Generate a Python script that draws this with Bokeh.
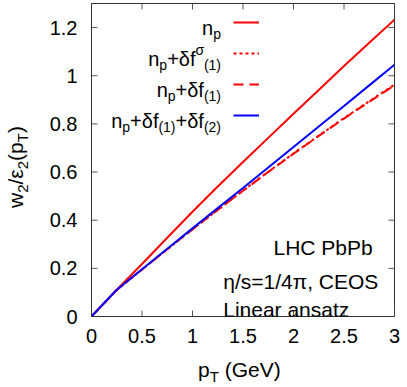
from bokeh.plotting import figure
from bokeh.models import (Range1d, FixedTicker, LinearAxis, Label, Legend, LegendItem, Div)
from bokeh.layouts import row, column
from bokeh.core.properties import value
from bokeh.embed import file_html
from bokeh.resources import INLINE

# ---------------- data ----------------
pt = [0.0, 0.125, 0.25, 0.5, 0.75, 1.0, 1.25, 1.5, 1.75, 2.0, 2.25, 2.5, 2.75, 3.0]
w_np = [0.0, 0.056, 0.111, 0.218, 0.327, 0.435, 0.540, 0.642, 0.742, 0.842, 0.941, 1.040, 1.137, 1.233]
w_np_dfsig = [0.0, 0.055, 0.110, 0.195, 0.279, 0.362, 0.443, 0.523, 0.601, 0.677, 0.751, 0.824, 0.894, 0.963]
w_np_df1 = [0.0, 0.055, 0.110, 0.195, 0.279, 0.362, 0.443, 0.522, 0.600, 0.676, 0.750, 0.822, 0.892, 0.960]
w_np_df12 = [0.0, 0.056, 0.111, 0.196, 0.281, 0.366, 0.450, 0.534, 0.619, 0.704, 0.789, 0.874, 0.960, 1.046]

x_ticks = [0, 0.5, 1, 1.5, 2, 2.5, 3]
x_tick_labels = ["0", "0.5", "1", "1.5", "2", "2.5", "3"]
y_ticks = [0, 0.2, 0.4, 0.6, 0.8, 1, 1.2]
y_tick_labels = ["0", "0.2", "0.4", "0.6", "0.8", "1", "1.2"]

# legend entries: (text piece, kind) kind: M main, sub, sup
legend_rows = [
    [("n", "M"), ("p", "sub")],
    [("n", "M"), ("p", "sub"), ("+δf", "M"), ("σ", "sup"), ("(1)", "sub")],
    [("n", "M"), ("p", "sub"), ("+δf", "M"), ("(1)", "sub")],
    [("n", "M"), ("p", "sub"), ("+δf", "M"), ("(1)", "sub"), ("+δf", "M"), ("(2)", "sub")],
]
ylabel_parts = [("w", "M"), ("2", "sub"), ("/ε", "M"), ("2", "sub"), ("(p", "M"), ("T", "sub"), (")", "M")]
xlabel_parts = [("p", "M"), ("T", "sub"), (" (GeV)", "M")]
info_lines = ["LHC PbPb", "η/s=1/4π, CEOS", "Linear ansatz"]

FONT = "Liberation Sans"
X0, X1 = 0, 3
Y0, Y1 = 0, 1.3

# page geometry (pixels)
W, H = 407, 387
LEFT_W = 33          # width of the y-label strip
MAIN_H = 352         # height of main figure
FRAME_L, FRAME_R, FRAME_T, FRAME_B = 91, 394, 3, 316

p = figure(width=W - LEFT_W, height=MAIN_H, output_backend="svg", toolbar_location=None,
           x_range=Range1d(X0, X1), y_range=Range1d(Y0, Y1),
           min_border_left=FRAME_L - LEFT_W, min_border_right=W - FRAME_R,
           min_border_top=FRAME_T, min_border_bottom=MAIN_H - FRAME_B,
           x_axis_location=None, y_axis_location=None)
p.grid.visible = False
p.outline_line_color = "#333333"
p.outline_line_width = 1
p.background_fill_color = "white"
p.border_fill_color = "white"

def style_axis(ax, ticks, labels):
    ax.ticker = FixedTicker(ticks=ticks)
    ax.major_tick_in = 0
    ax.major_tick_out = 0
    ax.minor_tick_line_color = None
    ax.axis_line_color = "#333333"
    ax.major_label_overrides = {t: l for t, l in zip(ticks, labels)}
    ax.major_label_text_font = FONT
    ax.major_label_text_font_size = "20px"
    ax.major_label_text_color = "black"

xb = LinearAxis(); style_axis(xb, x_ticks, x_tick_labels); xb.major_label_standoff = 12
yl = LinearAxis(); style_axis(yl, y_ticks, y_tick_labels); yl.major_label_standoff = 14
p.add_layout(xb, "below")
p.add_layout(yl, "left")

# inward mirror ticks on all four sides, from the tick lists
fw = FRAME_R - FRAME_L
fh = FRAME_B - FRAME_T
tx = 6 * (X1 - X0) / fw
ty = 6 * (Y1 - Y0) / fh
tick_col = "#555555"
p.segment(x0=x_ticks, y0=[Y0] * len(x_ticks), x1=x_ticks, y1=[Y0 + ty] * len(x_ticks), line_color=tick_col, line_width=1)
p.segment(x0=x_ticks, y0=[Y1] * len(x_ticks), x1=x_ticks, y1=[Y1 - ty] * len(x_ticks), line_color=tick_col, line_width=1)
p.segment(x0=[X0] * len(y_ticks), y0=y_ticks, x1=[X0 + tx] * len(y_ticks), y1=y_ticks, line_color=tick_col, line_width=1)
p.segment(x0=[X1] * len(y_ticks), y0=y_ticks, x1=[X1 - tx] * len(y_ticks), y1=y_ticks, line_color=tick_col, line_width=1)

r1 = p.line(pt, w_np, line_color="red", line_width=2)
r2 = p.line(pt, w_np_dfsig, line_color="red", line_width=2, line_dash="3 3")
r3 = p.line(pt, w_np_df1, line_color="red", line_width=2, line_dash="10 6")
r4 = p.line(pt, w_np_df12, line_color="blue", line_width=2)

# legend (samples only; the label texts are composed below)
row_lines = [21.5, 52.5, 83.5, 114.5]
legend_bottom_from_frame_bottom = FRAME_B - (row_lines[-1] + 10)
legend = Legend(items=[LegendItem(label=value(" "), renderers=[r]) for r in (r1, r2, r3, r4)],
                location=(233 - FRAME_L, legend_bottom_from_frame_bottom),
                padding=0, margin=0, spacing=11,
                glyph_width=26, glyph_height=20, label_height=20, label_width=0,
                label_standoff=0, label_text_font_size="1px",
                border_line_color=None, background_fill_alpha=0)
p.add_layout(legend, "center")

def dx(px):
    return X0 + (px - FRAME_L) * (X1 - X0) / fw

def dy(py):
    return Y0 + (FRAME_B - py) * (Y1 - Y0) / fh

WID = {'n': .556, 'p': .556, '+': .584, 'δ': .556, 'f': .278, 'σ': .60, '(': .333, ')': .333,
       '1': .556, '2': .556}

def width(s, size):
    return sum(WID.get(c, .556) for c in s) * size

def label(x, y, text, size):
    p.add_layout(Label(x=x, y=y, x_units="data", y_units="data", text=text,
                       text_font=FONT, text_font_size=f"{size}px", text_color="black",
                       text_align="left", text_baseline="alphabetic"))

MAIN, SMALL = 20, 14
SHIFT = {"M": 0, "sub": -6, "sup": 9}

for rw, ly in zip(legend_rows, row_lines):
    widths = [width(t, MAIN if k == "M" else SMALL) for t, k in rw]
    x = 220.5 - sum(widths)
    base = ly + 5.5
    for (t, k), w in zip(rw, widths):
        size = MAIN if k == "M" else SMALL
        label(dx(x), dy(base - SHIFT[k]), t, size)
        x += w

label(dx(273), dy(246.7), info_lines[0], 21)
label(dx(222.7), dy(280.7), info_lines[1], 21)
label(dx(222.7), dy(309.3), info_lines[2], 21)

# ---------------- axis titles as HTML (sub-scripts) ----------------
def html_parts(parts):
    out = []
    for t, k in parts:
        if k == "sub":
            out.append(f'<span style="font-size:15px;position:relative;top:5px;">{t}</span>')
        else:
            out.append(t.replace(" ", "&nbsp;"))
    return "".join(out)

ytxt = html_parts(ylabel_parts)
ydiv = Div(width=LEFT_W, height=MAIN_H, text=(
    f'<div style="position:relative;width:{LEFT_W}px;height:{MAIN_H}px;">'
    f'<div style="position:absolute;left:4px;top:208px;transform:rotate(-90deg);'
    f'transform-origin:0 0;white-space:nowrap;font-family:\'{FONT}\';font-size:21px;'
    f'line-height:24px;color:black;">{ytxt}</div></div>'),
    styles={"margin": "0", "padding": "0"})

XL_H = H - MAIN_H
xtxt = html_parts(xlabel_parts)
xdiv = Div(width=W, height=XL_H, text=(
    f'<div style="position:relative;width:{W}px;height:{XL_H}px;">'
    f'<div style="position:absolute;left:198px;top:6px;white-space:nowrap;'
    f'font-family:\'{FONT}\';font-size:21px;line-height:24px;color:black;">{xtxt}</div></div>'),
    styles={"margin": "0", "padding": "0"})

layout = column(row(ydiv, p, spacing=0), xdiv, spacing=0)

open("out.html", "w").write(file_html(layout, INLINE))
